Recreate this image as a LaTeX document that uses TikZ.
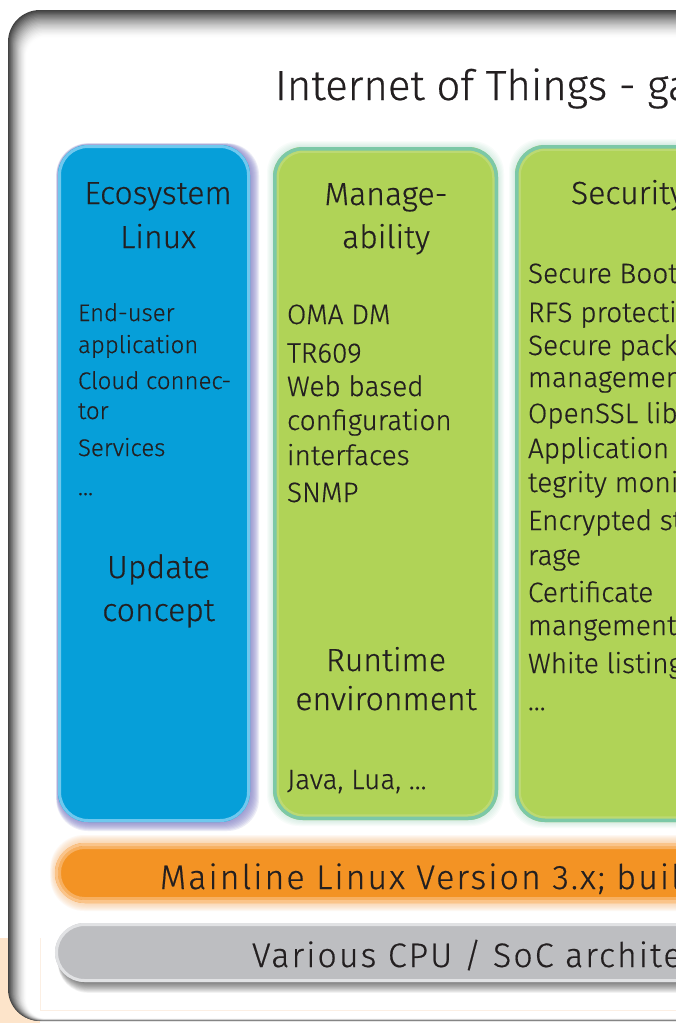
\documentclass[tikz,border=0pt]{standalone}
\usepackage{fontspec}
\setmainfont{Fira Sans}[UprightFont={* Light}, FakeBold=0.5]
\definecolor{ink}{HTML}{231F20}
\definecolor{ecoblue}{HTML}{069FD9}
\definecolor{ecorim}{HTML}{6FC8EE}
\definecolor{ecoglow}{HTML}{8C8ACB}
\definecolor{leaf}{HTML}{B0D357}
\definecolor{leafrim}{HTML}{7CC8A7}
\definecolor{leafhi}{HTML}{D3E6A8}
\definecolor{kernel}{HTML}{F39324}
\definecolor{kernelrim}{HTML}{FAC48A}
\definecolor{silicon}{HTML}{BDBEC1}
\definecolor{siliconrim}{HTML}{E1E2E4}
\definecolor{peach}{HTML}{FDE4CA}
\definecolor{peachline}{HTML}{FCEFE3}
\tikzset{
  txt/.style={inner sep=0pt, outer sep=0pt, text=ink},
  titletext/.style={txt, anchor=base west, font=\fontsize{42}{50}\selectfont},
  headtext/.style={txt, anchor=base, font=\fontsize{32}{38}\selectfont},
  itemtext/.style={txt, anchor=base west, font=\fontsize{28}{32}\selectfont},
  smallitem/.style={txt, anchor=base west, font=\fontsize{24}{28}\selectfont},
  bartext/.style={txt, anchor=base west, font=\fontsize{34}{40}\selectfont\addfontfeatures{LetterSpace=6}},
}
\begin{document}
\begin{tikzpicture}[x=1pt,y=-1pt]
\useasboundingbox (0,0) rectangle (676,1023);
\clip (0,0) rectangle (676,1023);

% corner patch behind the frame
\fill[peach] (0,938) rectangle (40,1023);

% outer frame with a grey bevel fading inwards
\foreach \i in {0,...,22} {
  \pgfmathsetmacro\c{74*(1-\i/22)^1.6}
  \pgfmathsetmacro\r{32-0.6*\i}
  \fill[black!\c, rounded corners=\r pt]
    (8+0.85*\i, 10+1.25*\i) rectangle (900, 1021-0.12*\i);
}
\draw[peachline, line width=0.8] (40,938) -- (40,1010) -- (700,1010);

% Ecosystem Linux column
\foreach \i in {9,...,1}
  \fill[ecoglow, opacity=0.16, rounded corners=32pt]
    (58-0.2*\i, 145-0.2*\i) rectangle (250+\i, 822+\i);
\fill[ecoblue, rounded corners=30pt] (58,145) rectangle (250,822);
\draw[ecorim, line width=3, rounded corners=28.5pt] (59.5,146.5) rectangle (248.5,820.5);

% green columns
\foreach \xa/\ya/\xb/\yb in {273/147/498/820, 515/145/740/822} {
  \foreach \i in {6,...,1}
    \fill[leafrim, opacity=0.05, rounded corners=32pt]
      (\xa-\i, \ya-\i) rectangle (\xb+\i, \yb+\i);
  \fill[leaf, rounded corners=30pt] (\xa,\ya) rectangle (\xb,\yb);
  \draw[leafhi, line width=2.5, opacity=0.35, rounded corners=26pt]
    (\xa+4.5,\ya+4.5) rectangle (\xb-4.5,\yb-4.5);
  \draw[leafrim, line width=3.5, rounded corners=28pt]
    (\xa+1.75,\ya+1.75) rectangle (\xb-1.75,\yb-1.75);
}

% kernel bar
\foreach \i in {8,...,1}
  \fill[kernelrim, opacity=0.10, rounded corners=34pt]
    (55-0.6*\i, 843-\i) rectangle (900, 903+\i);
\fill[kernel, rounded corners=30pt] (55,843) rectangle (900,903);
\draw[kernelrim!60!kernel, line width=3, rounded corners=25pt] (59.5,847.5) rectangle (900,898.5);
\draw[kernelrim, line width=3, rounded corners=28pt] (56.5,844.5) rectangle (900,901.5);

% hardware bar with its drop shadow
\foreach \i in {1,...,12}
  \fill[black, opacity=0.05, rounded corners=30pt]
    (58, 923+0.8*\i) rectangle (900, 982+0.9*\i);
\fill[silicon, rounded corners=30pt] (55,923) rectangle (900,982);
\draw[siliconrim, line width=3, rounded corners=28pt] (56.5,924.5) rectangle (900,980.5);

% title
\node[titletext] (title) at (275,100) {Internet of Things - gateway};

% Ecosystem Linux texts
\node[headtext] (ecoA) at (158,204) {Ecosystem};
\node[headtext] (ecoB) at (158,248) {Linux};
\foreach \n/\y/\t in {1/321/End-user, 2/353/application, 3/389/Cloud connec-,
                      4/419/tor, 5/456/Services, 6/495/…}
  \node[smallitem, name=eco\n] at (78,\y) {\t};
\node[headtext] (updA) at (158.5,578) {Update};
\node[headtext] (updB) at (158.5,621) {concept};

% Manageability texts
\node[headtext] (manA) at (386,205) {Manage-};
\node[headtext] (manB) at (386,248) {ability};
\foreach \n/\y/\t in {1/324/OMA DM, 2/362.5/TR609, 3/396/Web based,
                      4/430/configuration, 5/465/interfaces, 6/502/SNMP}
  \node[itemtext, name=man\n] at (287,\y) {\t};
\node[headtext] (rtA) at (386,671) {Runtime};
\node[headtext] (rtB) at (386,710) {environment};
\node[itemtext] (rtC) at (287,789) {Java, Lua, …};

% Security texts
\node[headtext, anchor=base west] (secH) at (571,204) {Security};
\foreach \n/\y/\t in {1/283/Secure Boot, 2/322/RFS protection, 3/355/Secure package,
                      4/387/management, 5/423/OpenSSL library, 6/458/Application in-,
                      7/492/tegrity monitoring, 8/530/Encrypted sto-, 9/565/rage,
                      10/602/Certificate, 11/635/mangement, 12/673/White listing, 13/710/…}
  \node[itemtext, name=sec\n] at (528,\y) {\t};

% layer bars
\node[bartext] (kern) at (160,889) {Mainline Linux Version 3.x; built with Yocto};
\node[bartext] (arch) at (252,967) {Various CPU / SoC architectures};
\end{tikzpicture}
\end{document}
